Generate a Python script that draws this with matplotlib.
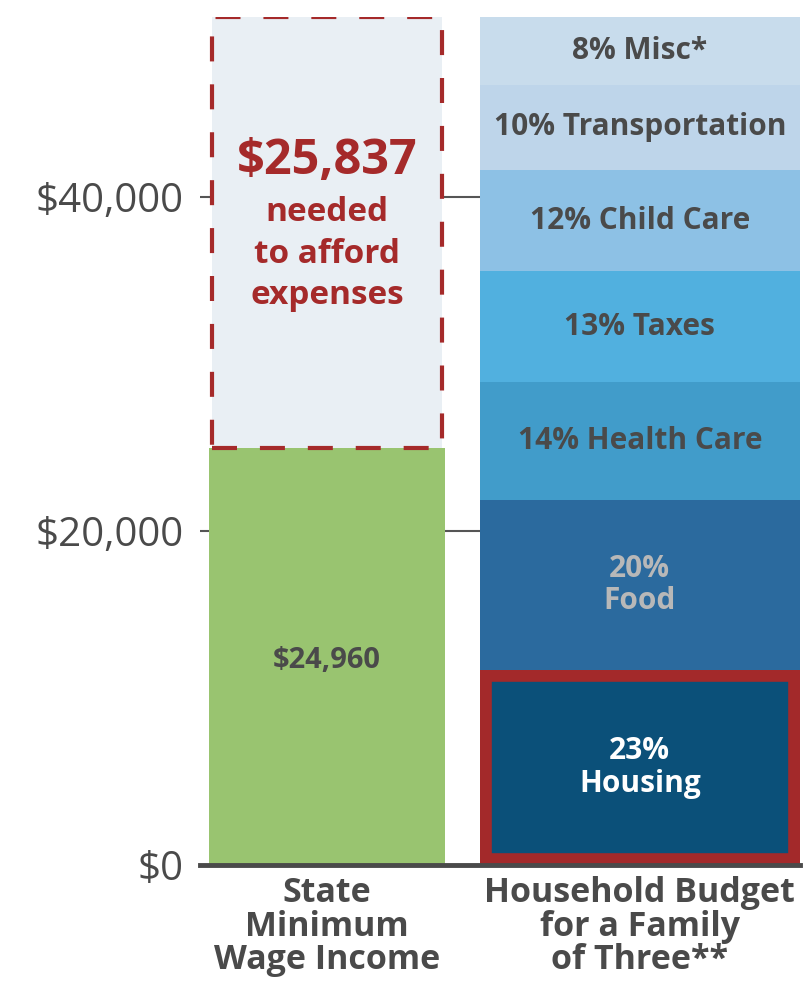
import matplotlib
matplotlib.use("Agg")
import matplotlib.pyplot as plt

# data
categories = ["State\nMinimum\nWage Income", "Household Budget\nfor a Family\nof Three**"]
min_wage = 24960
gap_needed = 25837
budget_total = min_wage + gap_needed
budget_items = ["Housing", "Food", "Health Care", "Taxes", "Child Care", "Transportation", "Misc*"]
budget_pct = [23, 20, 14, 13, 12, 10, 8]
budget_labels = ["23%\nHousing", "20%\nFood", "14% Health Care", "13% Taxes",
                 "12% Child Care", "10% Transportation", "8% Misc*"]
yticks = [0, 20000, 40000]
ytick_labels = ["$0", "$20,000", "$40,000"]

budget_colors = ["#0B5079", "#2B6A9E", "#419CCA", "#51B0DF", "#8DC1E5", "#BED5EA", "#C8DCEC"]
label_colors = ["white", "#B8B8B8", "#4A4A4A", "#4A4A4A", "#4A4A4A", "#4A4A4A", "#4A4A4A"]
red = "#A52A2A"
grey = "#4A4A4A"

plt.rcParams['font.family'] = ['Open Sans', 'DejaVu Sans']

fig = plt.figure(figsize=(8.05, 9.85), dpi=100)
ax = fig.add_axes([200/805, 1 - 865/985, 600/805, (865 - 17)/985])

x_pos = [0.212, 0.733]
widths = [0.393, 0.533]

# left bar: minimum wage + shortfall box
ax.bar(x_pos[0], min_wage, width=widths[0], color="#99C470", zorder=2)
ax.bar(x_pos[0], gap_needed, bottom=min_wage, width=widths[0] - 0.01,
       color="#E9EFF4", edgecolor=red, linewidth=3, linestyle=(0, (6, 5.5)), zorder=2)
ax.text(x_pos[0], min_wage * 0.49, "$24,960", ha="center", va="center",
        fontsize=21, fontweight="bold", color=grey, zorder=3)
ax.text(x_pos[0], min_wage + gap_needed * 0.665, "$25,837", ha="center", va="center",
        fontsize=35, fontweight="bold", color=red, zorder=3)
ax.text(x_pos[0], min_wage + gap_needed * 0.45, "needed\nto afford\nexpenses", ha="center", va="center",
        fontsize=24, fontweight="bold", color=red, linespacing=1.33, zorder=3)

# right bar: stacked budget
bottom = 0
for name, pct, col, lab, lcol in zip(budget_items, budget_pct, budget_colors, budget_labels, label_colors):
    h = budget_total * pct / 100
    if name == "Housing":
        r = ax.bar(x_pos[1], h, bottom=bottom, width=widths[1], color=col,
                   edgecolor="#A3292A", linewidth=17, zorder=2)[0]
        r.set_clip_path(r)
    else:
        ax.bar(x_pos[1], h, bottom=bottom, width=widths[1], color=col, linewidth=0, zorder=2)
    ax.text(x_pos[1], bottom + h / 2, lab, ha="center", va="center", fontsize=21.5,
            fontweight="bold", color=lcol, linespacing=1.1, zorder=3)
    bottom += h

ax.set_xlim(0, 1)
ax.set_ylim(0, budget_total)
ax.set_yticks(yticks)
ax.set_yticklabels(ytick_labels, fontsize=29, color=grey)
ax.set_xticks(x_pos)
ax.set_xticklabels(categories, fontsize=24.5, fontweight="bold", color=grey, linespacing=0.98)
ax.tick_params(axis="y", length=0, pad=12)
ax.tick_params(axis="x", length=0, pad=8)
for y in yticks[1:]:
    ax.axhline(y, color="#555555", linewidth=1.5, zorder=1)
for s in ["left", "right", "top"]:
    ax.spines[s].set_visible(False)
ax.spines["bottom"].set_linewidth(3.5)
ax.spines["bottom"].set_color(grey)
ax.spines["bottom"].set_zorder(4)

fig.savefig("out.png", dpi=100)
